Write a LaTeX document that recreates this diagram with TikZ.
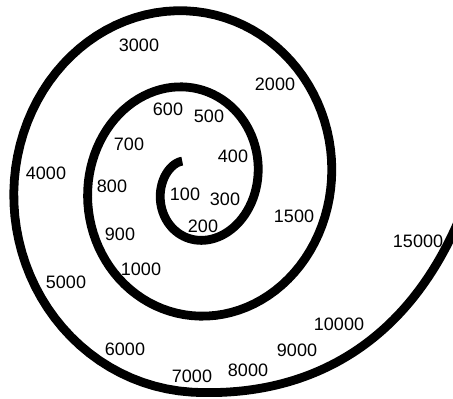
\documentclass[tikz,border=0pt]{standalone}
\usepackage{fontspec}
\setmainfont{Liberation Sans}
\tikzset{
  sp line/.style={line width=4.4pt, line cap=butt, line join=round},
  sp lbl/.style={font=\fontsize{9}{10}\selectfont, inner sep=0pt},
}
\begin{document}
\begin{tikzpicture}[x=0.5pt, y=-0.5pt]
  \useasboundingbox (0,0) rectangle (453,399);
  \clip (0,0) rectangle (453,399);
  % spiral: inner end, three turns, then the open tail to the right
  \draw[sp line] plot[domain=122:990, samples=240, variable=\ang]
      ({191.25+(28.9+0.20583*(\ang-180))*cos(\ang)}, {182.5-(37.5+0.2125*(\ang-180))*sin(\ang)})
      coordinate (spbot)
      .. controls (301,398) and (402,351) .. (458,222) coordinate (spend);
  % labels along the spiral
  \foreach \v/\x/\y in {100/185/194, 200/203/226, 300/225/199, 400/233/156, 500/209/116,
      600/168/109, 700/129/144, 800/112/186, 900/120/234, 1000/141/269, 1500/294/216,
      2000/275/84, 3000/139/45, 4000/46/173, 5000/66/282, 6000/125/349, 7000/192/376,
      8000/248/370, 9000/297/350, 10000/339/324, 15000/418/241}
    \node[sp lbl] (l\v) at (\x,\y) {\v};
\end{tikzpicture}
\end{document}
